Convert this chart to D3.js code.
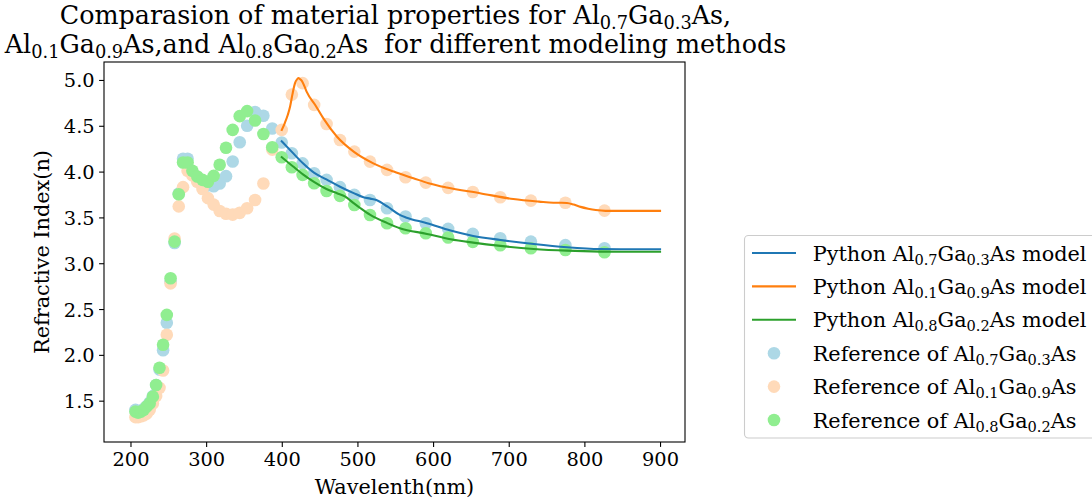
<!DOCTYPE html>
<html><head><meta charset="utf-8">
<script src="https://cdn.jsdelivr.net/npm/d3@7"></script>
<style>
html,body{margin:0;padding:0;background:#fff;}
svg text{font-family:"DejaVu Serif",serif;fill:#000;}
</style></head>
<body><svg id="c" width="1092" height="501"></svg>
<script>
// ---- data ----
const wavelengths = [206.6,210.1,213.8,217.5,221.4,225.4,229.6,233.9,238.4,243.1,248.0,253.0,258.3,263.8,269.5,275.5,281.8,288.3,295.2,302.4,310.0,317.9,326.3,335.1,344.4,354.2,364.7,375.7,387.4,399.9,413.3,427.5,442.8,459.2,476.9,495.9,516.6,539.1,563.6,590.4,619.9,652.5,688.8,729.3,774.9,826.6];
const refAl07 = [1.40,1.38,1.39,1.41,1.44,1.48,1.55,1.67,1.84,2.05,2.35,2.80,3.22,3.76,4.14,4.14,3.99,3.92,3.87,3.85,3.84,3.87,3.95,4.11,4.32,4.50,4.65,4.61,4.47,4.317,4.20,4.09,3.982,3.91,3.83,3.746,3.69,3.60,3.51,3.435,3.375,3.32,3.273,3.236,3.197,3.164];
const refAl01 = [1.32,1.32,1.33,1.34,1.36,1.40,1.47,1.55,1.64,1.83,2.22,2.78,3.27,3.62,3.83,4.01,3.96,3.89,3.81,3.71,3.64,3.57,3.54,3.53,3.55,3.60,3.69,3.87,4.24,4.455,4.84,4.965,4.728,4.52,4.345,4.218,4.109,4.019,3.939,3.88,3.822,3.778,3.72,3.683,3.66,3.574];
const refAl08 = [1.38,1.37,1.38,1.40,1.435,1.47,1.544,1.671,1.86,2.11,2.436,2.836,3.236,3.753,4.10,4.10,4.01,3.946,3.91,3.89,3.953,4.075,4.26,4.455,4.605,4.66,4.557,4.41,4.266,4.157,4.048,3.964,3.873,3.789,3.735,3.636,3.527,3.437,3.382,3.327,3.28,3.233,3.197,3.164,3.145,3.12];

const modelAl07X = [400,413,428,443,459,477,495,508,517,525,540,556,564,592,623,653,689,733,777,821,850,900];
const modelAl07N = [4.33,4.218,4.09,3.985,3.915,3.835,3.765,3.72,3.705,3.69,3.617,3.527,3.50,3.437,3.356,3.298,3.254,3.21,3.175,3.155,3.153,3.153];
const modelAl01X = [400,404,408,411,414,417.5,420,422,424,426.5,430,433,444,455,473,495,521,548,574,594,618,662,706,740,759,770,777,786,795,805,815,828,900];
const modelAl01N = [4.455,4.53,4.62,4.71,4.84,4.965,5.005,5.02,5.01,4.99,4.93,4.87,4.73,4.58,4.38,4.218,4.09,4.0,3.928,3.873,3.826,3.764,3.70,3.672,3.66,3.66,3.658,3.64,3.615,3.595,3.58,3.571,3.571];
const modelAl08X = [400,415,428,442,459,473,484,495,504,517,539,556,592,623,653,689,733,777,821,850,900];
const modelAl08N = [4.157,4.055,3.97,3.89,3.81,3.764,3.727,3.655,3.60,3.527,3.44,3.382,3.32,3.262,3.225,3.189,3.156,3.137,3.127,3.125,3.125];

const xTicks = [200,300,400,500,600,700,800,900];
const yTicks = [1.5,2.0,2.5,3.0,3.5,4.0,4.5,5.0];
const titleLines = ["Comparasion of material properties for Al_{0.7}Ga_{0.3}As,",
                    "Al_{0.1}Ga_{0.9}As,and Al_{0.8}Ga_{0.2}As  for different modeling methods"];
const xLabel = "Wavelenth(nm)";
const yLabel = "Refractive Index(n)";
const lineLabels = ["Python Al_{0.7}Ga_{0.3}As model","Python Al_{0.1}Ga_{0.9}As model","Python Al_{0.8}Ga_{0.2}As model"];
const refLabels = ["Reference of Al_{0.7}Ga_{0.3}As","Reference of Al_{0.1}Ga_{0.9}As","Reference of Al_{0.8}Ga_{0.2}As"];
const lineColors = ["#1f77b4","#ff7f0e","#2ca02c"];
const refColors = ["#add8e6","#ffdab9","#90ee90"];

// ---- layout ----
const L=104, R=685, T=62, B=442;
const FS=19.4, LFS=20.8, AFS=20.8, TFS=25.4;
const svg = d3.select("#c");
const x = d3.scaleLinear().domain([165,933]).range([L,R]);
const y = d3.scaleLinear().domain([1.049,5.196]).range([B,T]);

function rich(sel, str, fs){
  const re=/_\{([^}]*)\}/g; let last=0, m, parts=[];
  while((m=re.exec(str))){ if(m.index>last) parts.push([str.slice(last,m.index),false]); parts.push([m[1],true]); last=re.lastIndex; }
  if(last<str.length) parts.push([str.slice(last),false]);
  let down=false; const sh=fs*0.2;
  parts.forEach(([s,sub])=>{
    const t=sel.append("tspan").text(s).style("white-space","pre");
    if(sub){ t.attr("font-size",fs*0.7); if(!down){t.attr("dy",sh);down=true;} }
    else { t.attr("font-size",fs); if(down){t.attr("dy",-sh);down=false;} }
  });
  return sel;
}

// scatter
const refs=[refAl07,refAl01,refAl08];
refs.forEach((arr,i)=>{
  svg.append("g").selectAll("circle").data(arr).join("circle")
    .attr("cx",(d,j)=>x(wavelengths[j])).attr("cy",d=>y(d)).attr("r",6.3)
    .attr("fill",refColors[i]);
});
// lines
const models=[[modelAl07X,modelAl07N],[modelAl01X,modelAl01N],[modelAl08X,modelAl08N]];
const lineGen=d3.line().x(d=>x(d[0])).y(d=>y(d[1])).curve(d3.curveMonotoneX);
models.forEach(([xs,ns],i)=>{
  svg.append("path").datum(xs.map((v,j)=>[v,ns[j]])).attr("d",lineGen)
    .attr("fill","none").attr("stroke",lineColors[i]).attr("stroke-width",2.1)
    .attr("stroke-linecap","square").attr("stroke-linejoin","round");
});

// axes
const xa=svg.append("g").attr("transform",`translate(0,${B})`)
  .call(d3.axisBottom(x).tickValues(xTicks).tickSize(4.9).tickPadding(4.4).tickFormat(d3.format("d")));
const ya=svg.append("g").attr("transform",`translate(${L},0)`)
  .call(d3.axisLeft(y).tickValues(yTicks).tickSize(4.9).tickPadding(4.4).tickFormat(d3.format(".1f")));
[xa,ya].forEach(a=>{a.select(".domain").remove(); a.selectAll("line").attr("stroke","#000").attr("stroke-width",1.1);
  a.selectAll("text").attr("font-size",FS).attr("font-family","DejaVu Serif").attr("fill","#000");});
xa.selectAll("text").attr("dy","0.76em");
ya.selectAll("text").attr("dy","0.36em");
svg.append("rect").attr("x",L).attr("y",T).attr("width",R-L).attr("height",B-T)
  .attr("fill","none").attr("stroke","#000").attr("stroke-width",1.1);

// labels
svg.append("text").attr("x",(L+R)/2).attr("y",494).attr("text-anchor","middle").attr("font-size",AFS).text(xLabel);
svg.append("text").attr("transform",`translate(49,${(T+B)/2}) rotate(-90)`).attr("text-anchor","middle").attr("font-size",AFS).text(yLabel);
titleLines.forEach((s,i)=>{
  rich(svg.append("text").attr("x",(L+R)/2+1).attr("y",24+29*i).attr("text-anchor","middle").attr("font-size",TFS),s,TFS);
});

// legend
const lg=svg.append("g");
lg.append("rect").attr("x",744.5).attr("y",235.5).attr("width",400).attr("height",202.5).attr("rx",4)
  .attr("fill","#fff").attr("fill-opacity",0.8).attr("stroke","#cccccc").attr("stroke-width",1.1);
const rowY=[253,286.4,319.8,353.2,386.6,420];
lineLabels.forEach((s,i)=>{
  lg.append("line").attr("x1",752).attr("x2",796).attr("y1",rowY[i]).attr("y2",rowY[i]).attr("stroke",lineColors[i]).attr("stroke-width",2.1);
  rich(lg.append("text").attr("x",812.7).attr("y",rowY[i]+7.5).attr("font-size",LFS),s,LFS);
});
refLabels.forEach((s,i)=>{
  lg.append("circle").attr("cx",774).attr("cy",rowY[i+3]).attr("r",6.3).attr("fill",refColors[i]);
  rich(lg.append("text").attr("x",812.7).attr("y",rowY[i+3]+7.5).attr("font-size",LFS),s,LFS);
});
</script></body></html>
